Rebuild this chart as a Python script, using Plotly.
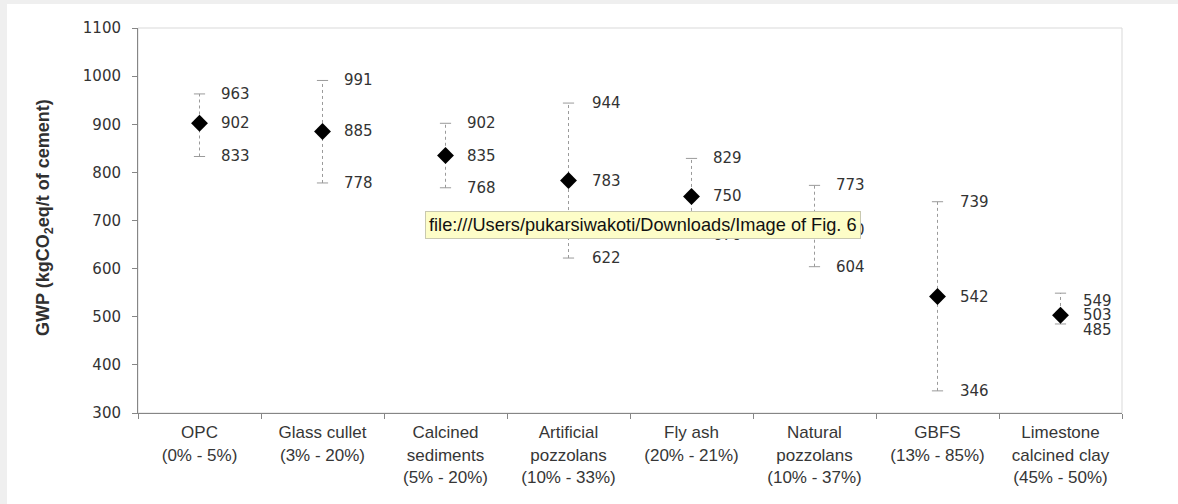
import plotly.graph_objects as go

# GWP of blended cements by supplementary material (kgCO2eq per tonne of cement)
categories = [
    "OPC<br>(0% - 5%)",
    "Glass cullet<br>(3% - 20%)",
    "Calcined<br>sediments<br>(5% - 20%)",
    "Artificial<br>pozzolans<br>(10% - 33%)",
    "Fly ash<br>(20% - 21%)",
    "Natural<br>pozzolans<br>(10% - 37%)",
    "GBFS<br>(13% - 85%)",
    "Limestone<br>calcined clay<br>(45% - 50%)",
]
gwp_max = [963, 991, 902, 944, 829, 773, 739, 549]
gwp_mean = [902, 885, 835, 783, 750, 680, 542, 503]
gwp_min = [833, 778, 768, 622, 670, 604, 346, 485]

y_ticks = [300, 400, 500, 600, 700, 800, 900, 1000, 1100]

# vertical label nudges (px) for crowded label stacks
shift_max = [0, 0, 0, 0, 0, 0, 0, -8]
shift_mean = [0, 0, 0, 0, 0, 0, 0, 0]
shift_min = [0, 0, 0, 0, 0, 0, 0, -6]
label_dx = [19, 19, 19, 21, 19, 19, 20, 20]

tooltip_text = "file:///Users/pukarsiwakoti/Downloads/Image of Fig. 6"

W, H = 1178, 504
L, R, T, B = 138, 1122, 28, 413
FONT_NUM = "DejaVu Sans"
FONT_CAT = "Liberation Sans, Arial"
TXT = "#363636"
AXIS = "#868686"


def px_x(p):
    return (p - L) / (R - L)


def px_y(p):
    return (B - p) / (B - T)


xs = list(range(len(categories)))

# dotted whiskers from min to max
wx, wy = [], []
for i in xs:
    wx += [i, i, None]
    wy += [gwp_min[i], gwp_max[i], None]

fig = go.Figure()
fig.add_trace(go.Scatter(
    x=wx, y=wy, mode="lines",
    line=dict(color="#9a9a9a", width=1, dash="dot"),
    hoverinfo="skip", showlegend=False,
))
# whisker caps
fig.add_trace(go.Scatter(
    x=xs + xs, y=gwp_max + gwp_min, mode="markers",
    marker=dict(symbol="line-ew", size=8, line=dict(color="#9a9a9a", width=1)),
    hoverinfo="skip", showlegend=False,
))
# mean markers
fig.add_trace(go.Scatter(
    x=xs, y=gwp_mean, mode="markers",
    marker=dict(symbol="diamond", size=13, color="black"),
    showlegend=False,
))

annotations = []
for i in xs:
    for val, dy in ((gwp_max[i], shift_max[i]), (gwp_mean[i], shift_mean[i]), (gwp_min[i], shift_min[i])):
        annotations.append(dict(
            x=i, y=val, xref="x", yref="y", text=str(val),
            showarrow=False, xanchor="left", yanchor="middle",
            xshift=label_dx[i], yshift=dy,
            font=dict(family=FONT_NUM, size=15, color="#333333"),
        ))

# y axis title
annotations.append(dict(
    x=px_x(44), y=px_y(218), xref="paper", yref="paper",
    text="GWP (kgCO<sub>2</sub>eq/t of cement)", textangle=-90,
    showarrow=False, xanchor="center", yanchor="middle",
    font=dict(family=FONT_CAT, size=18, color="#303030", weight="bold"),
))

# hover tooltip box
annotations.append(dict(
    x=px_x(643), y=px_y(225), xref="paper", yref="paper",
    text=tooltip_text, showarrow=False, xanchor="center", yanchor="middle",
    font=dict(family="Liberation Sans, Arial", size=18.2, color="#111111"),
    bgcolor="#fdfdc8", bordercolor="#c9c9b0", borderwidth=1, borderpad=3,
))

shapes = [
    # light frame around plot area (top and right)
    dict(type="rect", xref="paper", yref="paper", x0=0, x1=1, y0=0, y1=1,
         line=dict(color="#d9d9d9", width=1), layer="below"),
    # gray page bands
    dict(type="rect", xref="paper", yref="paper", x0=px_x(0), x1=px_x(7),
         y0=px_y(H), y1=px_y(0), line=dict(width=0), fillcolor="#efefef"),
    dict(type="rect", xref="paper", yref="paper", x0=px_x(0), x1=px_x(W),
         y0=px_y(4), y1=px_y(0), line=dict(width=0), fillcolor="#efefef"),
]

fig.update_layout(
    width=W, height=H,
    margin=dict(l=L, r=W - R, t=T, b=H - B),
    paper_bgcolor="white", plot_bgcolor="white",
    annotations=annotations, shapes=shapes,
    showlegend=False,
    xaxis=dict(
        range=[-0.5, len(categories) - 0.5],
        tickvals=xs, ticktext=categories, ticks="",
        tickfont=dict(family=FONT_CAT, size=17, color=TXT),
        showline=True, linecolor=AXIS, linewidth=1,
        showgrid=False, zeroline=False, ticklabelstandoff=4,
        minor=dict(tickvals=[k - 0.5 for k in range(len(categories) + 1)],
                   ticks="outside", ticklen=5, tickcolor=AXIS, showgrid=False),
    ),
    yaxis=dict(
        range=[300, 1100], tickvals=y_ticks,
        ticks="outside", ticklen=5, tickcolor=AXIS,
        tickfont=dict(family=FONT_NUM, size=15, color="#333333"),
        showline=True, linecolor=AXIS, linewidth=1,
        showgrid=False, zeroline=False, ticklabelstandoff=8,
    ),
)

fig.write_html("out.html")
